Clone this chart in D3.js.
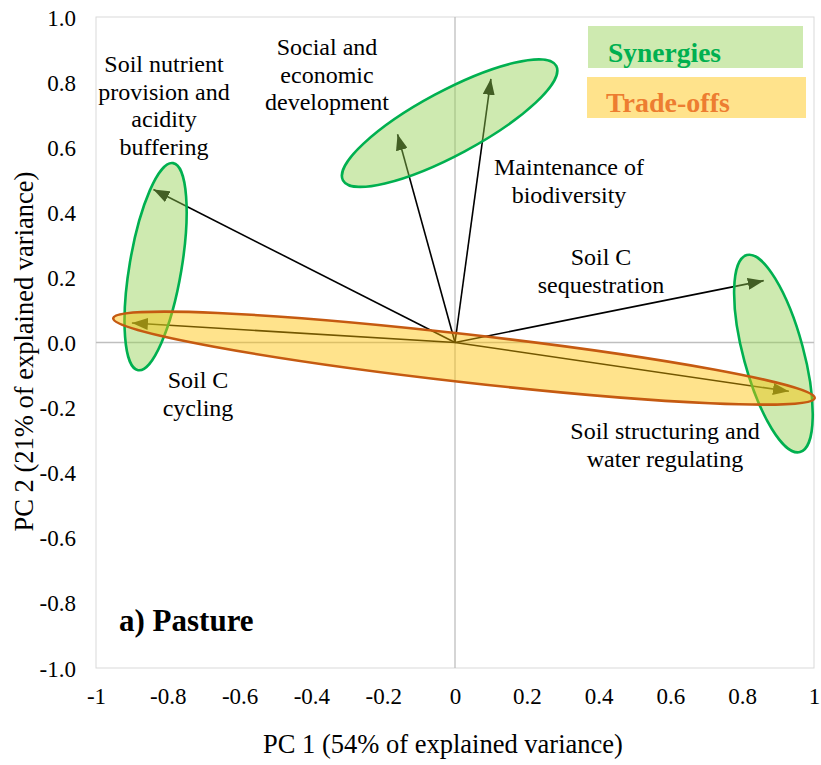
<!DOCTYPE html>
<html>
<head>
<meta charset="utf-8">
<style>
  body { margin: 0; background: white; }
</style>
<script src="https://cdn.jsdelivr.net/npm/d3@7"></script>
</head>
<body>
<svg id="chart"></svg>
<script>

// loadings
let services = ["Soil nutrient provision and acidity buffering", "Soil C cycling",
  "Social and economic development", "Maintenance of biodiversity",
  "Soil C sequestration", "Soil structuring and water regulating"]
let pc1 = [-0.84, -0.90, -0.16, 0.10, 0.86, 0.93]
let pc2 = [0.47, 0.06, 0.64, 0.81, 0.19, -0.15]

let ticksX = [-1, -0.8, -0.6, -0.4, -0.2, 0, 0.2, 0.4, 0.6, 0.8, 1]
let ticksY = [-1, -0.8, -0.6, -0.4, -0.2, 0, 0.2, 0.4, 0.6, 0.8, 1]

// ellipse groups: centre in PC units
let groupType = ["syn", "syn", "syn", "trade"]
let groupCx = [-0.834, -0.015, 0.887, 0.025]
let groupCy = [0.233, 0.674, -0.034, -0.048]

let width = 821, height = 765
let margin = {left: 96, right: 7, top: 17, bottom: 97}
let font = "'Liberation Serif', 'Times New Roman', serif"

let svg = d3.select("#chart").attr("width", width).attr("height", height)

let x = d3.scaleLinear().domain([-1, 1]).range([margin.left, width - margin.right])
let y = d3.scaleLinear().domain([-1, 1]).range([height - margin.bottom, margin.top])

// excel style labels with a plain hyphen
let fmtX = d => String(+d.toFixed(1)).replace("\u2212", "-")
let fmtY = d => d.toFixed(1).replace("\u2212", "-")

// plot frame
svg.append("rect")
  .attr("x", x(-1)).attr("y", y(1))
  .attr("width", x(1) - x(-1)).attr("height", y(-1) - y(1))
  .attr("fill", "none").attr("stroke", "#d9d9d9").attr("stroke-width", 1)

// zero lines
svg.append("line").attr("x1", x(0)).attr("x2", x(0)).attr("y1", y(1)).attr("y2", y(-1))
  .attr("stroke", "#bfbfbf").attr("stroke-width", 1.3)
svg.append("line").attr("x1", x(-1)).attr("x2", x(1)).attr("y1", y(0)).attr("y2", y(0))
  .attr("stroke", "#bfbfbf").attr("stroke-width", 1.3)

// tick labels
let xAxis = svg.append("g").attr("transform", `translate(0,${y(-1)})`)
  .call(d3.axisBottom(x).tickValues(ticksX).tickSize(0).tickPadding(0).tickFormat(fmtX))
xAxis.select(".domain").remove()
xAxis.selectAll("text").attr("y", 36).attr("dy", 0).attr("fill", "#000").style("font-size", "23px")

let yAxis = svg.append("g").attr("transform", `translate(${x(-1)},0)`)
  .call(d3.axisLeft(y).tickValues(ticksY).tickSize(0).tickPadding(20).tickFormat(fmtY))
yAxis.select(".domain").remove()
yAxis.selectAll("text").attr("dy", "0.35em").attr("fill", "#000").style("font-size", "23px")

// axis titles
svg.append("text").attr("x", x(0) - 12).attr("y", 753).attr("text-anchor", "middle")
  .style("font-size", "26.5px").text("PC 1 (54% of explained variance)")
svg.append("text").attr("transform", `translate(33,${y(0) + 9}) rotate(-90)`).attr("text-anchor", "middle")
  .style("font-size", "26.5px").text("PC 2 (21% of explained variance)")

// arrowhead
svg.append("defs").append("marker")
  .attr("id", "head").attr("viewBox", "0 0 16 12")
  .attr("refX", 16).attr("refY", 6)
  .attr("markerWidth", 16).attr("markerHeight", 12)
  .attr("markerUnits", "userSpaceOnUse")
  .attr("orient", "auto")
  .append("path").attr("d", "M0,0 L16,6 L0,12 Z").attr("fill", "#000")

svg.selectAll("line.vec").data(services).enter().append("line")
  .attr("class", "vec")
  .attr("x1", x(0)).attr("y1", y(0))
  .attr("x2", (d, i) => x(pc1[i])).attr("y2", (d, i) => y(pc2[i]))
  .attr("stroke", "#000").attr("stroke-width", 1.6)
  .attr("marker-end", "url(#head)")

// ellipses (semi axes and tilt in pixels)
let ellShape = [
  {rx: 105, ry: 26, rot: -80.4},
  {rx: 121, ry: 32, rot: -28.2},
  {rx: 102, ry: 30, rot: 74.9},
  {rx: 353, ry: 24, rot: 6.5}
]
svg.selectAll("ellipse").data(groupType).enter().append("ellipse")
  .attr("transform", (d, i) => `translate(${x(groupCx[i])},${y(groupCy[i])}) rotate(${ellShape[i].rot})`)
  .attr("rx", (d, i) => ellShape[i].rx).attr("ry", (d, i) => ellShape[i].ry)
  .attr("fill", d => d == "syn" ? "#92d050" : "#ffc000")
  .attr("fill-opacity", 0.45)
  .attr("stroke", d => d == "syn" ? "#00b050" : "#c55a11")
  .attr("stroke-width", 2.6)

// vector labels
let labelLines = [
  ["Soil nutrient", "provision and", "acidity", "buffering"],
  ["Soil C", "cycling"],
  ["Social and", "economic", "development"],
  ["Maintenance of", "biodiversity"],
  ["Soil C", "sequestration"],
  ["Soil structuring and", "water regulating"]
]
let labelPos = [[164, 72], [198, 388], [327, 55], [569, 175], [601, 265], [665, 439]]

labelLines.forEach((lines, i) => {
  let t = svg.append("text").attr("text-anchor", "middle").style("font-size", "24px")
  lines.forEach((l, j) => {
    t.append("tspan").attr("x", labelPos[i][0]).attr("y", labelPos[i][1] + j * 27.7).text(l)
  })
})

// panel label
svg.append("text").attr("x", 119).attr("y", 631)
  .style("font-size", "31px").style("font-weight", "bold").text("a) Pasture")

// legend
svg.append("rect").attr("x", 588).attr("y", 26).attr("width", 215).attr("height", 42)
  .attr("fill", "#92d050").attr("fill-opacity", 0.45)
svg.append("rect").attr("x", 587).attr("y", 77).attr("width", 219).attr("height", 41)
  .attr("fill", "#ffc000").attr("fill-opacity", 0.45)
svg.append("text").attr("x", 608).attr("y", 62)
  .style("font-size", "27.5px").style("font-weight", "bold").attr("fill", "#00b050").text("Synergies")
svg.append("text").attr("x", 606).attr("y", 112)
  .style("font-size", "28px").style("font-weight", "bold").attr("fill", "#ed7d31").text("Trade-offs")

// everything in Times-like serif, as in the original figure
svg.selectAll("text").style("font-family", font)

</script>
</body>
</html>
